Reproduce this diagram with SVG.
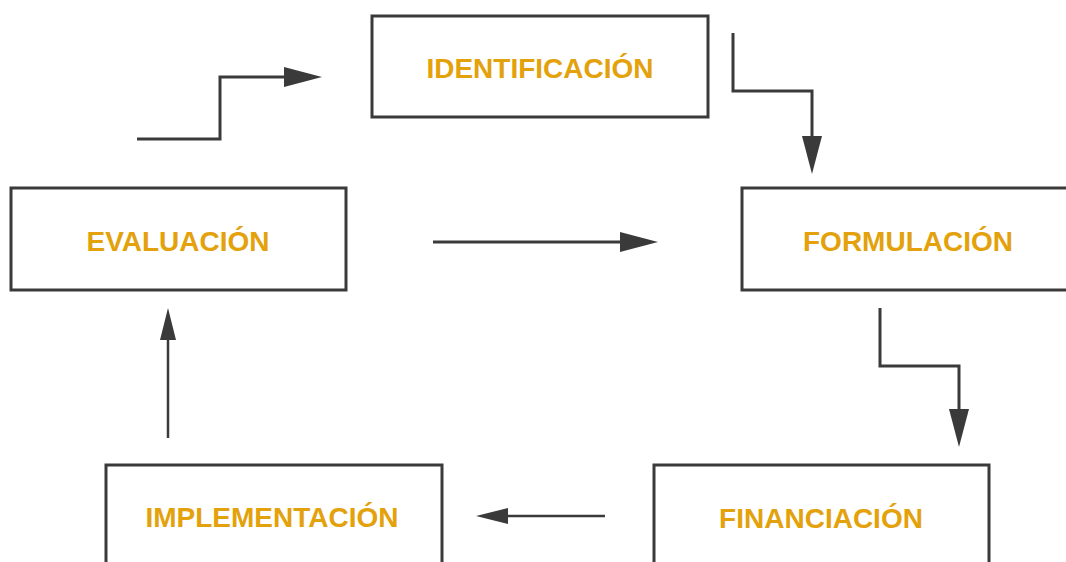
<svg xmlns="http://www.w3.org/2000/svg" width="1066" height="562" viewBox="0 0 1066 562">
<style>
.box{fill:#fff;stroke:#3a3a3a;stroke-width:3}
.lbl{font-family:"Liberation Sans",Arial,sans-serif;font-weight:bold;font-size:28px;fill:#E3A10B;text-anchor:middle}
.con{fill:none;stroke:#3a3a3a;stroke-width:3}
.thin{stroke-width:2.5}
</style>
<defs>
<marker id="ah" markerUnits="userSpaceOnUse" markerWidth="40" markerHeight="22" refX="30" refY="10" orient="auto" viewBox="0 0 40 22">
<path d="M0,0 L38,10 L0,20 z" fill="#3a3a3a"/>
</marker>
<marker id="ahs" markerUnits="userSpaceOnUse" markerWidth="34" markerHeight="20" refX="24" refY="8" orient="auto" viewBox="0 0 34 20">
<path d="M0,0 L32,8 L0,16 z" fill="#3a3a3a"/>
</marker>
</defs>
<rect width="1066" height="562" fill="#fff"/>
<g id="identificacion"><rect class="box" x="372" y="16" width="336" height="101"/><text class="lbl" x="540" y="78">IDENTIFICACIÓN</text></g>
<g id="evaluacion"><rect class="box" x="11" y="188" width="335" height="102"/><text class="lbl" x="178" y="251">EVALUACIÓN</text></g>
<g id="formulacion"><rect class="box" x="742" y="188" width="340" height="102"/><text class="lbl" x="908" y="251">FORMULACIÓN</text></g>
<g id="implementacion"><rect class="box" x="106" y="465" width="336" height="110"/><text class="lbl" x="272" y="527">IMPLEMENTACIÓN</text></g>
<g id="financiacion"><rect class="box" x="654" y="465" width="335" height="110"/><text class="lbl" x="821" y="528">FINANCIACIÓN</text></g>
<g id="connectors">
<polyline class="con" points="137,139 220,139 220,77 314,77" marker-end="url(#ah)"/>
<polyline class="con" points="733,33 733,91 812,91 812,166" marker-end="url(#ah)"/>
<line class="con" x1="433" y1="242" x2="650" y2="242" marker-end="url(#ah)"/>
<polyline class="con" points="880,308 880,366 959,366 959,439" marker-end="url(#ah)"/>
<line class="con thin" x1="605" y1="516" x2="484" y2="516" marker-end="url(#ahs)"/>
<line class="con thin" x1="168" y1="438" x2="168" y2="316" marker-end="url(#ahs)"/>
</g>
</svg>
